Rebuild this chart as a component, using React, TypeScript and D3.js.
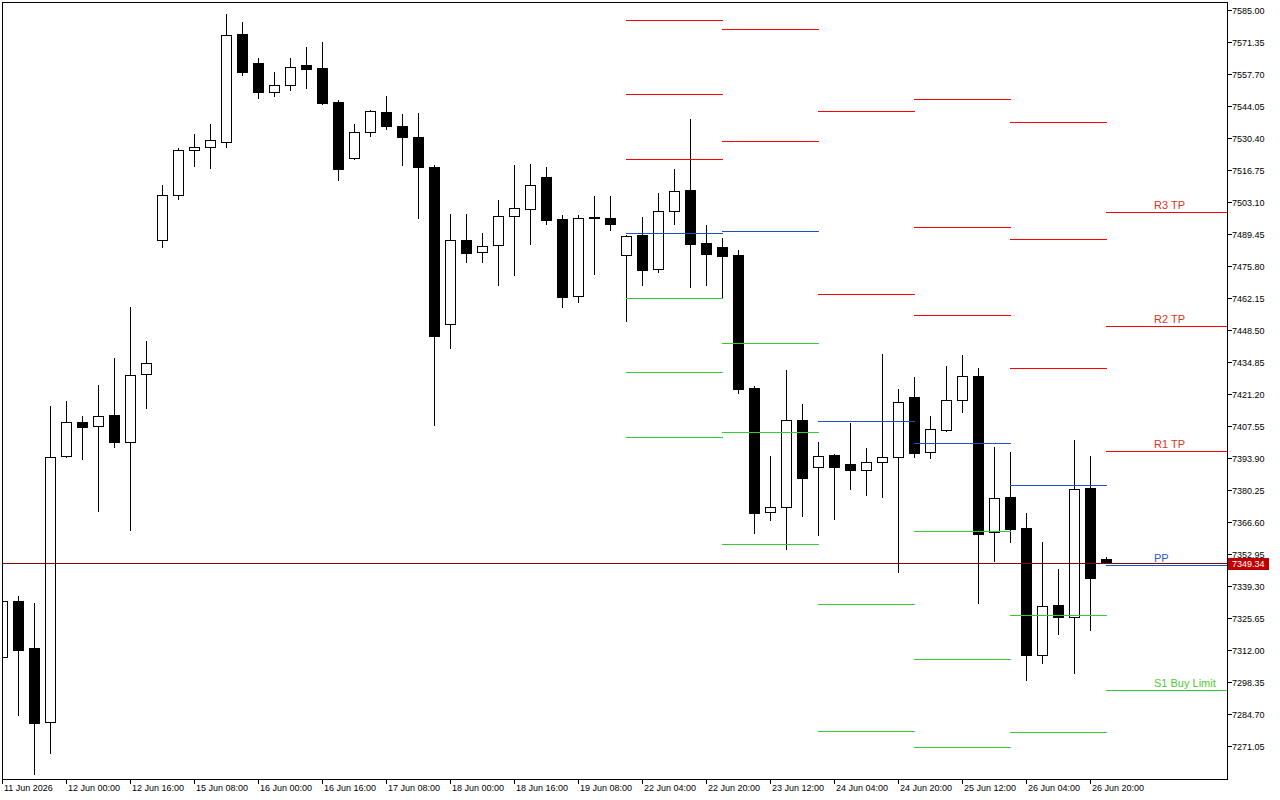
import React from 'react';
import * as d3 from 'd3';

// ---------- Candles (H4) ----------
const openP = [
  7309.0, 7332.9, 7312.9, 7281.3, 7394.8, 7409.3, 7407.6, 7412.2, 7400.7, 7429.7,
  7486.9, 7506.1, 7525.3, 7526.6, 7528.7, 7574.8, 7562.4, 7550.0, 7553.0, 7561.5,
  7560.3, 7545.8, 7521.9, 7533.0, 7541.5, 7535.5, 7530.8, 7518.0, 7451.1, 7486.9,
  7481.8, 7484.8, 7497.1, 7500.1, 7513.8, 7495.9, 7463.0, 7496.7, 7496.3, 7480.5,
  7489.0, 7474.5, 7499.3, 7508.2, 7485.6, 7483.9, 7480.5, 7423.8, 7370.9, 7373.0,
  7410.1, 7390.1, 7395.2, 7391.3, 7388.8, 7392.2, 7394.3, 7419.9, 7396.5, 7405.8,
  7418.6, 7428.9, 7362.3, 7377.3, 7364.0, 7309.9, 7331.2, 7326.1, 7381.1, 7350.8,
];
const highP = [
  7333.8, 7335.0, 7332.0, 7416.1, 7418.2, 7411.8, 7425.0, 7436.6, 7458.3, 7443.8,
  7510.4, 7526.1, 7532.1, 7536.4, 7583.3, 7579.9, 7564.5, 7558.6, 7564.5, 7569.2,
  7571.4, 7546.6, 7536.4, 7542.3, 7548.3, 7540.6, 7541.1, 7518.9, 7498.0, 7498.0,
  7489.9, 7504.0, 7518.9, 7519.3, 7518.0, 7497.6, 7497.6, 7505.7, 7505.7, 7489.0,
  7496.7, 7506.9, 7517.2, 7538.5, 7493.3, 7487.7, 7482.6, 7424.6, 7394.8, 7431.4,
  7416.9, 7400.7, 7395.6, 7408.8, 7398.2, 7438.3, 7423.3, 7428.5, 7411.8, 7433.1,
  7437.8, 7432.3, 7398.6, 7396.5, 7370.4, 7358.1, 7346.6, 7401.6, 7394.8, 7351.7,
];
const lowP = [
  7308.2, 7284.3, 7259.1, 7268.1, 7394.3, 7393.5, 7371.3, 7398.6, 7363.2, 7415.2,
  7483.9, 7504.4, 7518.5, 7517.6, 7526.6, 7557.3, 7547.5, 7548.3, 7550.9, 7551.7,
  7544.9, 7512.5, 7521.4, 7531.3, 7534.2, 7518.9, 7496.3, 7408.0, 7440.8, 7477.5,
  7477.5, 7467.7, 7472.0, 7485.2, 7493.7, 7458.3, 7460.4, 7472.4, 7491.2, 7452.3,
  7467.7, 7473.2, 7493.7, 7466.8, 7467.7, 7462.2, 7421.6, 7361.9, 7367.5, 7355.1,
  7369.2, 7361.1, 7367.9, 7380.7, 7378.1, 7377.3, 7345.3, 7394.3, 7393.9, 7405.4,
  7413.5, 7332.0, 7350.0, 7358.1, 7299.2, 7306.5, 7318.8, 7302.2, 7320.5, 7349.2,
];
const closeP = [
  7332.9, 7312.0, 7280.9, 7394.3, 7409.3, 7407.1, 7411.8, 7400.7, 7429.3, 7434.4,
  7506.1, 7525.3, 7526.6, 7529.5, 7574.3, 7558.6, 7550.0, 7553.0, 7560.7, 7559.8,
  7545.3, 7517.2, 7533.0, 7541.9, 7535.5, 7530.8, 7518.0, 7446.0, 7486.9, 7481.3,
  7484.3, 7497.1, 7500.5, 7510.4, 7495.4, 7462.6, 7496.3, 7496.3, 7493.7, 7488.6,
  7474.1, 7499.3, 7507.8, 7485.2, 7480.9, 7480.1, 7423.3, 7370.4, 7373.0, 7410.1,
  7385.4, 7394.8, 7390.1, 7388.8, 7392.2, 7394.3, 7417.8, 7396.0, 7406.3, 7418.6,
  7428.9, 7361.5, 7376.8, 7363.6, 7309.9, 7330.8, 7326.1, 7380.7, 7342.7, 7349.34,
];

const currentPrice = 7349.34;

// ---------- Axis labels ----------
const xTickLabels = [
  '11 Jun 2026', '12 Jun 00:00', '12 Jun 16:00', '15 Jun 08:00', '16 Jun 00:00',
  '16 Jun 16:00', '17 Jun 08:00', '18 Jun 00:00', '18 Jun 16:00', '19 Jun 08:00',
  '22 Jun 04:00', '22 Jun 20:00', '23 Jun 12:00', '24 Jun 04:00', '24 Jun 20:00',
  '25 Jun 12:00', '26 Jun 04:00', '26 Jun 20:00',
];
const xTickBars = [0, 4, 8, 12, 16, 20, 24, 28, 32, 36, 40, 44, 48, 52, 56, 60, 64, 68];

const yTickLabels = [
  '7585.00', '7571.35', '7557.70', '7544.05', '7530.40', '7516.75', '7503.10', '7489.45',
  '7475.80', '7462.15', '7448.50', '7434.85', '7421.20', '7407.55', '7393.90', '7380.25',
  '7366.60', '7352.95', '7339.30', '7325.65', '7312.00', '7298.35', '7284.70', '7271.05',
];

// ---------- Daily pivot levels ----------
const pivotStartBar = [39, 45, 51, 57, 63, 69];
const pivotEndBar = [45, 51, 57, 63, 69, -1];
const pivotR3 = [7580.7, 7615.3, 7596.1, 7547.0, 7537.2, 7498.8];
const pivotR2 = [7549.2, 7576.9, 7541.9, 7492.4, 7487.3, 7450.2];
const pivotR1 = [7521.4, 7529.1, 7463.9, 7454.9, 7432.3, 7396.9];
const pivotPP = [7489.9, 7490.7, 7409.7, 7400.3, 7382.4, 7348.3];
const pivotS1 = [7462.2, 7443.0, 7331.6, 7362.8, 7326.9, 7294.9];
const pivotS2 = [7430.6, 7405.0, 7277.5, 7308.2, 7277.0, NaN];
const pivotS3 = [7402.9, 7357.2, 7199.4, 7270.6, 7221.6, NaN];
const lastDayLabels = ['R3 TP', 'R2 TP', 'R1 TP', 'PP', 'S1 Buy Limit'];

const RED = '#ff0000';
const BLUE = '#1e50c8';
const GREEN = '#32cd32';
const FONT = '"Liberation Sans", Arial, sans-serif';

export default function App() {
  const W = 1280, H = 800;
  const plotL = 2, plotT = 2, plotR = 1227, plotB = 779;
  const x = d3.scaleLinear().domain([0, 76.5]).range([2.5, 1226.5]);
  const y = d3.scaleLinear().domain([7585, 7271.05]).range([10, 746]);
  const row = (v: number) => Math.round(y(v));

  const levelSets = [
    { vals: pivotR3, color: RED },
    { vals: pivotR2, color: RED },
    { vals: pivotR1, color: RED },
    { vals: pivotPP, color: BLUE },
    { vals: pivotS1, color: GREEN },
    { vals: pivotS2, color: GREEN },
    { vals: pivotS3, color: GREEN },
  ];
  const labelColors = ['#e0341c', '#e0341c', '#e0341c', '#2a5ad8', '#4ccc30'];
  const lastIdx = pivotStartBar.length - 1;

  const curRow = row(currentPrice) + 1;

  return (
    <svg width={W} height={H} style={{ position: 'absolute', left: 0, top: 0, background: '#fff' }}
      fontFamily={FONT}>
      <defs>
        <clipPath id="plot">
          <rect x={plotL + 1} y={plotT + 1} width={plotR - plotL - 1} height={plotB - plotT - 1} />
        </clipPath>
      </defs>
      <rect x={0} y={0} width={W} height={H} fill="#fff" />

      <g clipPath="url(#plot)">
        {/* candles */}
        {openP.map((o, i) => {
          const c = closeP[i];
          const cx = x(i);
          const bull = c > o;
          const tRow = row(Math.max(o, c));
          const bRow = row(Math.min(o, c));
          const hRow = row(highP[i]);
          const lRow = row(lowP[i]);
          return (
            <g key={i}>
              <line x1={cx} x2={cx} y1={hRow} y2={lRow + 1} stroke="#000" strokeWidth={1} />
              <rect x={cx - 5} y={tRow + 0.5} width={10} height={Math.max(0, bRow - tRow)}
                fill={bull ? '#fff' : '#000'} stroke="#000" strokeWidth={1} />
            </g>
          );
        })}

        {/* pivot level segments */}
        {pivotStartBar.map((sb, d) => {
          const x1 = x(sb) - 0.5;
          const x2 = pivotEndBar[d] < 0 ? plotR : x(pivotEndBar[d]) + 0.5;
          return (
            <g key={d}>
              {levelSets.map((ls, li) => {
                const v = ls.vals[d];
                if (!isFinite(v)) return null;
                const r = row(v) + 0.5;
                return <line key={li} x1={x1} x2={x2} y1={r} y2={r} stroke={ls.color} strokeWidth={1} />;
              })}
            </g>
          );
        })}

        {/* current price line */}
        <line x1={plotL} x2={plotR} y1={curRow + 0.5} y2={curRow + 0.5} stroke="#8a0000" strokeWidth={1} />
      </g>

      {/* labels on the current day levels */}
      {lastDayLabels.map((lab, i) => {
        const v = levelSets[i].vals[lastIdx];
        return (
          <text key={lab} x={1154} y={row(v) - 3} fontSize={11} fill={labelColors[i]}>{lab}</text>
        );
      })}

      {/* frame */}
      <rect x={plotL + 0.5} y={plotT + 0.5} width={plotR - plotL} height={plotB - plotT}
        fill="none" stroke="#000" strokeWidth={1} />

      {/* y axis */}
      {yTickLabels.map((lab) => {
        const r = row(parseFloat(lab));
        return (
          <g key={lab}>
            <line x1={plotR} x2={plotR + 5} y1={r + 0.5} y2={r + 0.5} stroke="#000" />
            <text x={1232} y={r + 3.5} fontSize={9} fill="#000">{lab}</text>
          </g>
        );
      })}

      {/* current price box */}
      <rect x={1228} y={curRow - 5} width={41} height={12} fill="#c00000" />
      <text x={1232} y={curRow + 4} fontSize={9} fill="#fff">{currentPrice.toFixed(2)}</text>

      {/* x axis */}
      {xTickLabels.map((lab, i) => {
        const tx = i === 0 ? plotL + 0.5 : Math.round(x(xTickBars[i]) - 0.5) + 0.5;
        return (
          <g key={lab}>
            <line x1={tx} x2={tx} y1={plotB} y2={plotB + 5} stroke="#000" />
            <text x={tx + 1.5} y={791} fontSize={9} fill="#000">{lab}</text>
          </g>
        );
      })}
    </svg>
  );
}
